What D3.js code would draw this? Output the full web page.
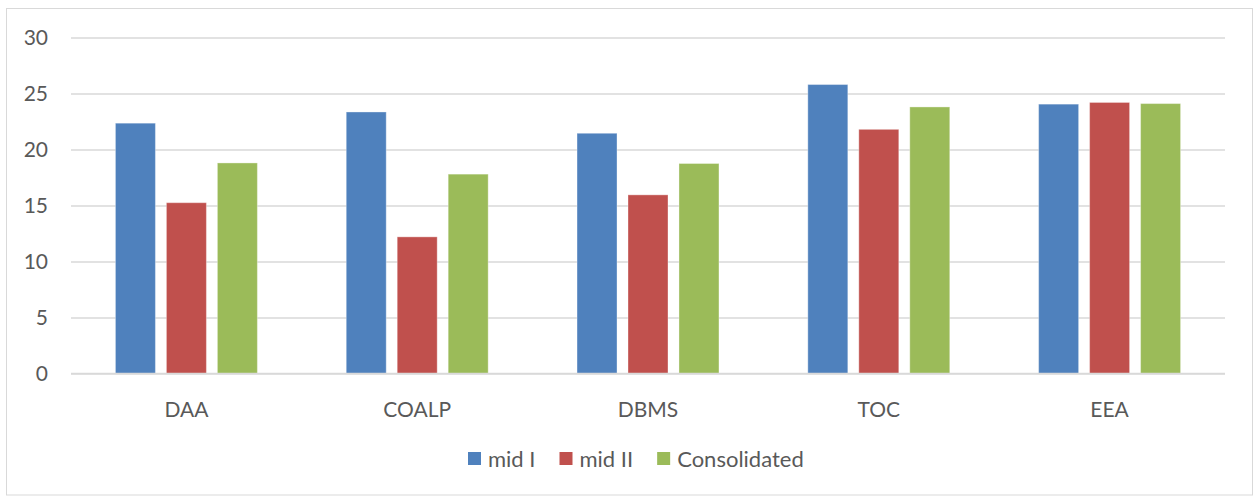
<!DOCTYPE html>
<html lang="en">
<head>
    <meta charset="UTF-8">
    <title>Marks</title>
    <script src="https://d3js.org/d3.v7.min.js"></script>
    <style>
        body { margin: 0; background: #fff; }
        text { font-family: Lato, "Open Sans", sans-serif; fill: #595959; }
    </style>
</head>
<body>
    <div id="container"></div>
    <script>
        // data
        var subjects = ["DAA", "COALP", "DBMS", "TOC", "EEA"];
        var series = ["mid I", "mid II", "Consolidated"];
        var midI = [22.35, 23.35, 21.45, 25.8, 24.05];
        var midII = [15.25, 12.2, 15.95, 21.8, 24.2];
        var consolidated = [18.8, 17.8, 18.75, 23.8, 24.1];
        var yTicks = [0, 5, 10, 15, 20, 25, 30];
        var colors = ["#4f81bd", "#c0504d", "#9bbb59"];

        var values = [midI, midII, consolidated];
        var data = subjects.map(function (s, i) {
            return { subject: s, vals: series.map(function (n, j) { return { key: n, value: values[j][i] }; }) };
        });

        var width = 1255, height = 496;
        var svg = d3.select("#container").append("svg")
            .attr("width", width)
            .attr("height", height);

        // chart frame
        svg.append("rect")
            .attr("x", 6.5).attr("y", 8.5)
            .attr("width", 1246).attr("height", 486.5)
            .attr("fill", "#fff")
            .attr("stroke", "#d9d9d9");

        var y = d3.scaleLinear().domain([0, 30]).range([373.5, 37.5]);
        var x0 = d3.scaleBand().domain(subjects).range([71, 1225])
            .paddingInner(0.385).paddingOuter(0.1925);
        var x1 = d3.scaleBand().domain(series).range([0, x0.bandwidth()])
            .paddingInner(0.2157).paddingOuter(0);
        var color = d3.scaleOrdinal().domain(series).range(colors);

        // gridlines + y labels
        var yAxis = d3.axisLeft(y).tickValues(yTicks).tickSize(-(1225 - 71)).tickPadding(23);
        var gy = svg.append("g").attr("transform", "translate(71,0)").call(yAxis);
        gy.select(".domain").remove();
        gy.selectAll(".tick line").attr("stroke", "#d9d9d9").attr("stroke-width", 1.3);
        gy.selectAll(".tick text").style("font-size", "21px").attr("fill", "#595959");

        // bars
        svg.append("g").selectAll("g")
            .data(data)
            .enter().append("g")
            .attr("transform", (d) => "translate(" + x0(d.subject) + ",0)")
            .selectAll("rect")
            .data((d) => d.vals)
            .enter().append("rect")
            .attr("x", (d) => x1(d.key))
            .attr("y", (d) => y(d.value))
            .attr("width", x1.bandwidth())
            .attr("height", (d) => y(0) - y(d.value))
            .attr("fill", (d) => color(d.key))
            .attr("stroke", "#fff")
            .attr("stroke-opacity", 0.35)
            .attr("stroke-width", 1);

        // baseline
        svg.append("line")
            .attr("x1", 71).attr("x2", 1225)
            .attr("y1", y(0)).attr("y2", y(0))
            .attr("stroke", "#d9d9d9").attr("stroke-width", 1.3);

        // x labels
        var xAxis = d3.axisBottom(x0).tickSize(0).tickPadding(29);
        var gx = svg.append("g").attr("transform", "translate(0," + y(0) + ")").call(xAxis);
        gx.select(".domain").remove();
        gx.selectAll(".tick text").style("font-size", "21px").attr("fill", "#595959");

        // legend
        var lx = 468;
        var legend = svg.append("g");
        series.forEach(function (s) {
            legend.append("rect")
                .attr("x", lx).attr("y", 452)
                .attr("width", 13).attr("height", 13)
                .attr("fill", color(s));
            var t = legend.append("text")
                .attr("x", lx + 20).attr("y", 466.5)
                .style("font-size", "22px")
                .text(s);
            lx += 20 + t.node().getComputedTextLength() + 24;
        });
    </script>
</body>
</html>
